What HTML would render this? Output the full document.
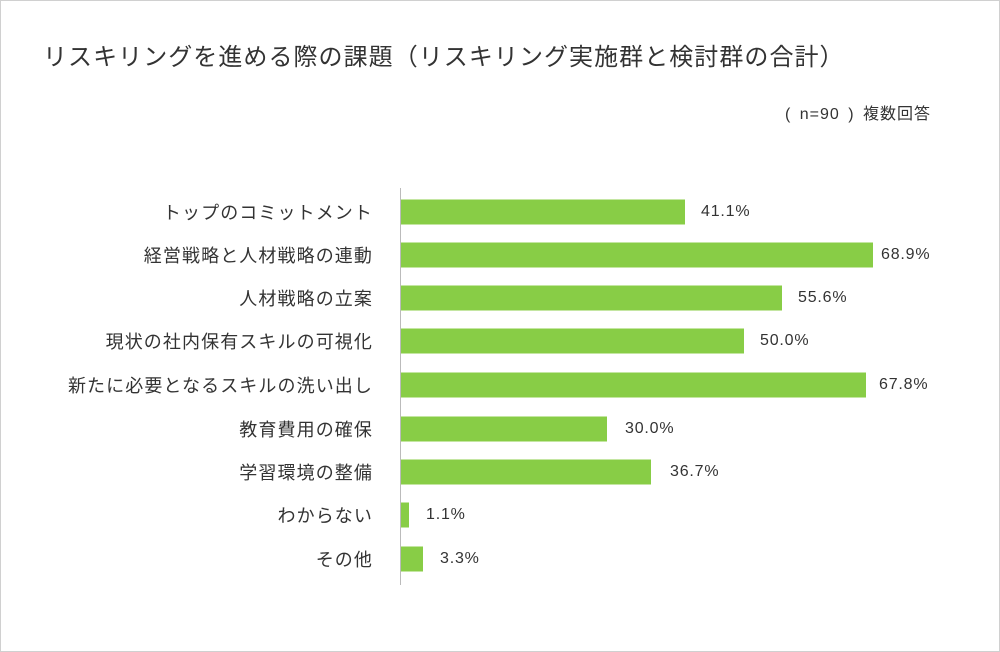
<!DOCTYPE html>
<html><head><meta charset="utf-8"><style>
body{margin:0;background:#fff;}
.c{position:relative;width:998px;height:650px;border:1px solid #d0d0d0;background:#fff;font-family:"Liberation Sans","Noto Sans CJK JP",sans-serif;color:#333;overflow:hidden}
.t{position:absolute;left:42px;top:36px;font-size:24px;white-space:nowrap;letter-spacing:1.05px}
.n{position:absolute;right:68px;top:99px;font-size:16px;letter-spacing:1px;word-spacing:3px}
.ax{position:absolute;left:399px;top:187px;width:1px;height:397px;background:#bbb}
.l{position:absolute;right:627px;font-size:18px;white-space:nowrap;transform:translateY(-50%);letter-spacing:1.1px;margin-right:-1px}
.b{position:absolute;left:400px;height:25px;background:#88cd46;transform:translateY(-50%)}
.v{position:absolute;font-size:16px;transform:translateY(-50%);letter-spacing:0.8px}
</style></head><body><div class="c">
<div class="t">リスキリングを進める際の課題（リスキリング実施群と検討群の合計）</div>
<div class="n">( n=90 ) 複数回答</div>
<div class="ax"></div>

<div class="l" style="top:211px">トップのコミットメント</div>
<div class="b" style="top:211px;width:284px"></div><div class="v" style="top:211px;left:700px">41.1%</div>

<div class="l" style="top:254px">経営戦略と人材戦略の連動</div>
<div class="b" style="top:254px;width:472px"></div><div class="v" style="top:254px;left:880px">68.9%</div>

<div class="l" style="top:297px">人材戦略の立案</div>
<div class="b" style="top:297px;width:381px"></div><div class="v" style="top:297px;left:797px">55.6%</div>

<div class="l" style="top:340px">現状の社内保有スキルの可視化</div>
<div class="b" style="top:340px;width:343px"></div><div class="v" style="top:340px;left:759px">50.0%</div>

<div class="l" style="top:384px">新たに必要となるスキルの洗い出し</div>
<div class="b" style="top:384px;width:465px"></div><div class="v" style="top:384px;left:878px">67.8%</div>

<div class="l" style="top:428px">教育費用の確保</div>
<div class="b" style="top:428px;width:206px"></div><div class="v" style="top:428px;left:624px">30.0%</div>

<div class="l" style="top:471px">学習環境の整備</div>
<div class="b" style="top:471px;width:250px"></div><div class="v" style="top:471px;left:669px">36.7%</div>

<div class="l" style="top:514px">わからない</div>
<div class="b" style="top:514px;width:8px"></div><div class="v" style="top:514px;left:425px">1.1%</div>

<div class="l" style="top:558px">その他</div>
<div class="b" style="top:558px;width:22px"></div><div class="v" style="top:558px;left:439px">3.3%</div>
</div></body></html>
